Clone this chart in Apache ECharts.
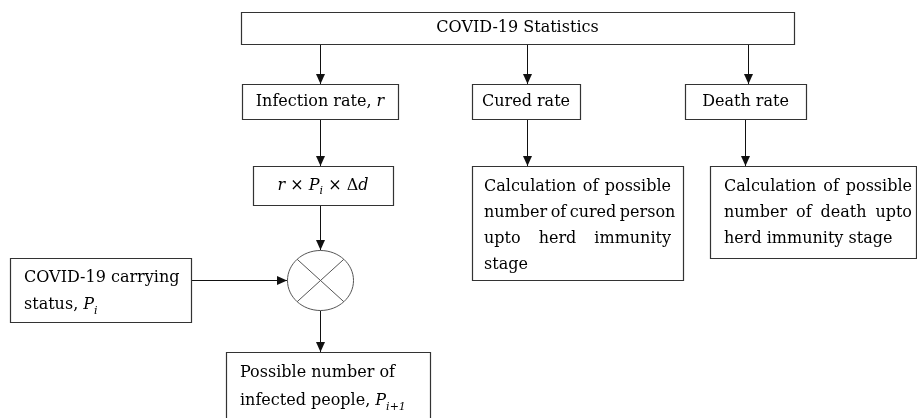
<!DOCTYPE html>
<html>
<head>
<meta charset="utf-8">
<script src="https://cdn.jsdelivr.net/npm/echarts@6/dist/echarts.min.js"></script>
<style>
  html, body { margin: 0; padding: 0; background: #fff; }
  #chart { width: 917px; height: 418px; }
</style>
</head>
<body>
<div id="chart"></div>
<script>
// box texts ({i|..} = italic symbol, {s|..} = subscript)
const headLabel = 'COVID-19 Statistics';
const rateLabels = ['Infection rate, {i|r}', 'Cured rate', 'Death rate'];
const productLabel = '{i|r} × {i|P}{s|i} × Δ{i|d}';
const curedLines = ['Calculation of possible', 'number of cured person', 'upto herd immunity', 'stage'];
const deathLines = ['Calculation of possible', 'number of death upto', 'herd immunity stage'];
const carryLines = ['COVID-19 carrying', 'status, {i|P}{s|i}'];
const resultLines = ['Possible number of', 'infected people, {i|P}{s|i+1}'];

// layout: [x, y, w, h]
const boxHead = [241, 12, 553, 32];
const boxRates = [[242, 84, 156, 35], [472, 84, 108, 35], [685, 84, 121, 35]];
const boxProduct = [253, 166, 140, 39];
const boxCured = [472, 166, 211, 114];
const boxDeath = [710, 166, 206, 92];
const boxCarry = [10, 258, 181, 64];
const boxResult = [226, 352, 204, 70];
const mixer = [320, 280, 33, 30];
const arrows = [
  [320, 44, 320, 84], [527, 44, 527, 84], [748, 44, 748, 84],
  [320, 119, 320, 166], [527, 119, 527, 166], [745, 119, 745, 166],
  [320, 205, 320, 250], [191, 280, 287, 280], [320, 310, 320, 352]
];

const FONT_FAMILY = 'DejaVu Serif';
const FONT_SIZE = 16;
const LINE_H = 26;
const INK = '#000';
const rich = {
  i: { fontFamily: FONT_FAMILY, fontSize: FONT_SIZE, fontStyle: 'italic', fill: INK },
  s: { fontFamily: FONT_FAMILY, fontSize: 11, fontStyle: 'italic', fill: INK, padding: [12, 0, 0, 0] }
};

const measure = document.createElement('canvas').getContext('2d');
measure.font = FONT_SIZE + 'px "' + FONT_FAMILY + '"';

let elements = [];

function box(b) {
  elements.push({
    type: 'rect',
    shape: { x: b[0] + 0.5, y: b[1] + 0.5, width: b[2], height: b[3] },
    style: { fill: '#fff', stroke: '#333', lineWidth: 1.2 }
  });
}

function text(str, x, y, align) {
  elements.push({
    type: 'text', x: x, y: y,
    style: {
      text: str, fontFamily: FONT_FAMILY, fontSize: FONT_SIZE, fill: INK,
      align: align, verticalAlign: 'middle', textAlign: align, textVerticalAlign: 'middle',
      rich: rich
    }
  });
}

// justified paragraph, last line left aligned
function para(lines, left, right, top) {
  lines.forEach(function (line, k) {
    let y = top + k * LINE_H;
    let words = line.split(' ');
    if (k === lines.length - 1 || words.length < 2) {
      text(line, left, y, 'left');
      return;
    }
    let widths = words.map(function (w) { return measure.measureText(w).width; });
    let total = widths.reduce(function (a, b) { return a + b; }, 0);
    let gap = Math.max(3.5, (right - left - total) / (words.length - 1));
    let x = left;
    words.forEach(function (w, j) {
      text(w, x, y, 'left');
      x += widths[j] + gap;
    });
  });
}

function arrow(a) {
  elements.push({
    type: 'line',
    shape: { x1: a[0] + 0.5, y1: a[1] + 0.5, x2: a[2] + 0.5, y2: a[3] + 0.5 },
    style: { stroke: '#111', lineWidth: 1 }
  });
  let x = a[2] + 0.5, y = a[3];
  let pts = a[0] === a[2]
    ? [[x - 4.5, y - 10], [x + 4.5, y - 10], [x, y]]
    : [[a[2] - 10, a[3] - 4], [a[2] - 10, a[3] + 5], [a[2], a[3] + 0.5]];
  elements.push({ type: 'polygon', shape: { points: pts }, style: { fill: '#111' } });
}

arrows.forEach(arrow);

box(boxHead);
text(headLabel, boxHead[0] + boxHead[2] / 2, boxHead[1] + boxHead[3] / 2, 'center');

boxRates.forEach(function (b, k) {
  box(b);
  text(rateLabels[k], b[0] + b[2] / 2, b[1] + b[3] / 2, 'center');
});

box(boxProduct);
text(productLabel, boxProduct[0] + boxProduct[2] / 2, boxProduct[1] + boxProduct[3] / 2, 'center');

box(boxCured);
para(curedLines, boxCured[0] + 12, boxCured[0] + boxCured[2] - 12, boxCured[1] + 21);

box(boxDeath);
para(deathLines, boxDeath[0] + 14, boxDeath[0] + boxDeath[2] - 4, boxDeath[1] + 21);

box(boxCarry);
carryLines.forEach(function (l, k) { text(l, boxCarry[0] + 14, boxCarry[1] + 20 + k * 27, 'left'); });

box(boxResult);
resultLines.forEach(function (l, k) { text(l, boxResult[0] + 14, boxResult[1] + 21 + k * 28, 'left'); });

// multiplier symbol
let cx = mixer[0] + 0.5, cy = mixer[1] + 0.5, rx = mixer[2], ry = mixer[3];
elements.push({
  type: 'ellipse', shape: { cx: cx, cy: cy, rx: rx, ry: ry },
  style: { fill: '#fff', stroke: '#555', lineWidth: 1 }
});
let dx = rx * Math.SQRT1_2, dy = ry * Math.SQRT1_2;
elements.push({ type: 'line', shape: { x1: cx - dx, y1: cy - dy, x2: cx + dx, y2: cy + dy }, style: { stroke: '#555', lineWidth: 1 } });
elements.push({ type: 'line', shape: { x1: cx - dx, y1: cy + dy, x2: cx + dx, y2: cy - dy }, style: { stroke: '#555', lineWidth: 1 } });

const chart = echarts.init(document.getElementById('chart'));
chart.setOption({
  backgroundColor: '#fff',
  animation: false,
  graphic: { elements: elements }
});
</script>
</body>
</html>
